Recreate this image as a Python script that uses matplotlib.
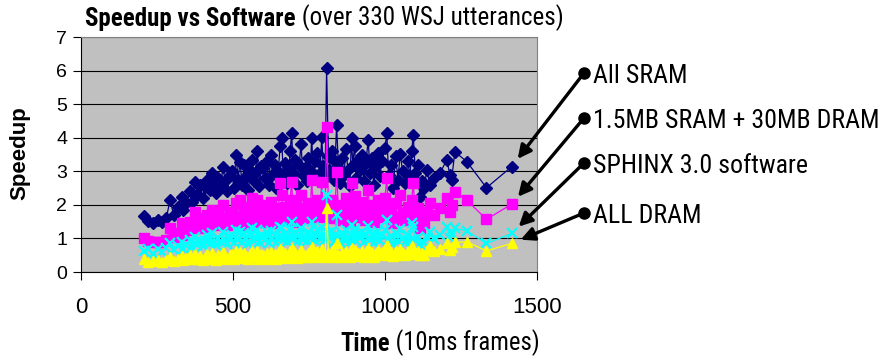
import matplotlib
matplotlib.use("Agg")
import matplotlib.pyplot as plt
from matplotlib import font_manager

# utterance lengths (10ms frames), sorted
frames = [207, 222, 238, 253, 268, 281, 293, 305, 318, 331,
          336, 347, 358, 366, 375, 383, 392, 400, 408, 415,
          423, 430, 437, 445, 452, 460, 467, 474, 481, 489,
          496, 503, 510, 517, 523, 530, 537, 544, 551, 556,
          561, 568, 574, 580, 587, 593, 600, 606, 611, 618,
          624, 630, 637, 643, 649, 655, 660, 666, 672, 679,
          685, 688, 693, 699, 705, 711, 718, 724, 730, 736,
          742, 748, 754, 759, 765, 771, 778, 786, 792, 797,
          803, 808, 814, 820, 826, 831, 836, 841, 847, 853,
          859, 865, 872, 878, 884, 890, 894, 900, 906, 912,
          918, 924, 931, 937, 945, 951, 957, 963, 970, 976,
          983, 990, 1000, 1006, 1012, 1019, 1027, 1035, 1043, 1050,
          1058, 1066, 1075, 1082, 1088, 1093, 1100, 1108, 1115, 1123,
          1130, 1137, 1148, 1160, 1181, 1203, 1214, 1219, 1230, 1269,
          1334, 1417]

all_sram = [1.67, 1.52, 1.45, 1.55, 1.50, 1.62, 2.14, 1.70, 1.95, 2.24,
            1.85, 2.05, 2.40, 2.10, 2.69, 2.30, 2.60, 2.20, 2.54, 2.75,
            2.45, 2.95, 2.60, 2.35, 2.80, 2.55, 3.14, 2.70, 2.40, 2.90,
            3.00, 2.50, 3.50, 2.75, 3.29, 2.60, 3.20, 2.85, 2.45, 3.05,
            3.34, 2.70, 2.95, 3.60, 2.55, 3.15, 3.09, 2.80, 3.30, 2.60,
            3.50, 2.90, 3.20, 2.50, 3.00, 3.75, 3.98, 2.85, 3.25, 2.65,
            3.10, 3.60, 4.13, 2.95, 3.35, 2.60, 3.20, 3.80, 2.90, 3.10,
            2.70, 3.40, 3.05, 3.98, 2.85, 3.30, 3.55, 2.95, 4.03, 3.15,
            2.80, 6.07, 3.45, 3.00, 3.60, 2.75, 3.30, 4.38, 3.10, 2.65,
            3.40, 2.90, 3.65, 3.05, 2.55, 3.98, 3.20, 3.75, 2.80, 3.35,
            3.05, 3.50, 2.70, 3.25, 3.93, 2.95, 3.40, 2.60, 3.15, 3.55,
            2.85, 3.30, 3.70, 4.13, 2.90, 3.20, 2.50, 3.45, 2.75, 3.53,
            3.00, 2.65, 3.30, 2.85, 3.60, 4.08, 2.95, 3.20, 2.24, 2.70,
            2.50, 3.04, 2.60, 2.80, 2.94, 3.34, 2.90, 2.74, 3.58, 3.29,
            2.51, 3.14]

sram_dram = [1.02, 0.92, 0.88, 0.90, 0.88, 0.95, 1.31, 1.05, 1.15, 1.45,
             1.10, 1.25, 1.50, 1.30, 1.80, 1.40, 1.60, 1.30, 1.55, 1.70,
             1.45, 1.85, 1.55, 1.40, 1.70, 1.50, 2.00, 1.60, 1.40, 1.75,
             1.80, 1.45, 2.05, 1.60, 2.14, 1.50, 1.95, 1.70, 1.40, 1.85,
             2.20, 1.60, 1.75, 2.15, 1.50, 1.90, 1.85, 1.65, 2.00, 1.50,
             2.10, 1.70, 1.90, 1.45, 1.80, 2.64, 2.30, 1.65, 1.95, 1.55,
             1.85, 2.15, 2.69, 1.70, 2.00, 1.50, 1.90, 2.30, 1.70, 1.85,
             1.60, 2.05, 1.80, 2.74, 1.65, 1.95, 2.15, 1.75, 2.69, 1.85,
             1.65, 4.33, 2.05, 1.75, 2.15, 1.60, 1.95, 2.99, 1.80, 1.55,
             2.00, 1.70, 2.20, 1.80, 1.50, 2.64, 1.90, 2.25, 1.65, 2.00,
             1.80, 2.10, 1.55, 1.95, 2.45, 1.70, 2.00, 1.50, 1.85, 2.15,
             1.65, 1.95, 2.20, 2.79, 1.70, 1.90, 1.45, 2.05, 1.60, 2.30,
             1.75, 1.55, 1.95, 1.65, 2.15, 2.64, 1.70, 1.90, 1.30, 1.60,
             1.45, 1.80, 2.05, 1.70, 1.90, 2.20, 1.80, 2.00, 2.39, 2.14,
             1.57, 2.02]

sphinx_sw = [0.62, 0.70, 0.55, 0.68, 0.60, 0.72, 0.85, 0.65, 0.78, 0.90,
             0.70, 0.80, 0.95, 0.75, 1.05, 0.80, 0.95, 0.78, 0.92, 1.10,
             0.85, 1.15, 0.90, 0.80, 1.00, 0.88, 1.20, 0.92, 0.82, 1.05,
             1.10, 0.85, 1.25, 0.95, 1.20, 0.88, 1.15, 1.00, 0.82, 1.10,
             1.30, 0.92, 1.05, 1.25, 0.88, 1.10, 1.08, 0.95, 1.18, 0.85,
             1.22, 0.98, 1.10, 0.85, 1.05, 1.35, 1.30, 0.95, 1.12, 0.90,
             1.08, 1.25, 1.50, 0.98, 1.15, 0.88, 1.10, 1.30, 0.95, 1.08,
             0.92, 1.18, 1.02, 1.50, 0.95, 1.12, 1.25, 1.00, 1.35, 1.05,
             0.95, 2.29, 1.15, 1.00, 1.22, 0.90, 1.10, 1.70, 1.02, 0.88,
             1.15, 0.95, 1.25, 1.02, 0.85, 1.40, 1.08, 1.28, 0.92, 1.12,
             1.00, 1.20, 0.88, 1.10, 1.38, 0.95, 1.12, 0.85, 1.05, 1.22,
             0.92, 1.10, 1.25, 1.55, 0.95, 1.08, 0.82, 1.15, 0.90, 1.28,
             1.00, 0.88, 1.10, 0.92, 1.45, 1.35, 0.95, 1.05, 0.80, 0.92,
             0.85, 1.05, 1.20, 0.98, 1.10, 1.35, 1.02, 1.12, 1.30, 1.23,
             0.85, 1.15]

all_dram = [0.38, 0.30, 0.32, 0.35, 0.30, 0.36, 0.45, 0.33, 0.40, 0.48,
            0.35, 0.42, 0.50, 0.38, 0.55, 0.40, 0.48, 0.36, 0.45, 0.55,
            0.40, 0.58, 0.44, 0.36, 0.50, 0.42, 0.60, 0.45, 0.38, 0.52,
            0.55, 0.40, 0.62, 0.46, 0.60, 0.42, 0.56, 0.48, 0.38, 0.54,
            0.64, 0.44, 0.50, 0.62, 0.40, 0.55, 0.52, 0.45, 0.58, 0.40,
            0.60, 0.46, 0.54, 0.40, 0.50, 0.68, 0.64, 0.45, 0.56, 0.42,
            0.52, 0.62, 0.72, 0.46, 0.56, 0.42, 0.54, 0.65, 0.45, 0.52,
            0.44, 0.58, 0.50, 0.74, 0.46, 0.56, 0.62, 0.48, 0.68, 0.52,
            0.46, 1.90, 0.58, 0.50, 0.62, 0.45, 0.55, 0.85, 0.52, 0.44,
            0.58, 0.48, 0.64, 0.52, 0.44, 0.72, 0.55, 0.66, 0.48, 0.58,
            0.52, 0.62, 0.46, 0.58, 0.72, 0.50, 0.60, 0.46, 0.56, 0.65,
            0.50, 0.60, 0.68, 0.80, 0.52, 0.60, 0.48, 0.64, 0.52, 0.70,
            0.58, 0.50, 0.64, 0.55, 0.78, 0.72, 0.56, 0.62, 0.50, 0.58,
            0.52, 0.66, 0.78, 0.62, 0.70, 0.85, 0.66, 0.74, 0.88, 0.90,
            0.63, 0.85]

series_labels = ["All SRAM", "1.5MB SRAM + 30MB DRAM",
                 "SPHINX 3.0 software", "ALL DRAM"]

# pick a narrow face if one exists, else shrink Liberation Sans to the same width
names = {f.name for f in font_manager.fontManager.ttflist}
narrow, shrink = "Liberation Sans", 0.83
for cand in ["Liberation Sans Narrow", "Arial Narrow", "Roboto Condensed",
             "Noto Sans Condensed"]:
    if cand in names:
        narrow, shrink = cand, 1.0
        break
plt.rcParams["font.family"] = ["Liberation Sans", "DejaVu Sans"]

fig = plt.figure(figsize=(8.83, 3.6), dpi=100)
ax = fig.add_axes([0.0917, 0.2444, 0.5164, 0.6528])
ax.set_facecolor("#C0C0C0")

ax.plot(frames, all_sram, color="#000080", marker="D", ms=6.5, lw=0.9)
ax.plot(frames, sram_dram, color="#FF00FF", marker="s", ms=6.5, lw=0.9)
ax.plot(frames, sphinx_sw, color="#00FFFF", marker="x", ms=7, mew=1.6, lw=0.9)
ax.plot(frames, all_dram, color="#FFFF00", marker="^", ms=7.5, lw=0.9)

ax.set_xlim(0, 1500)
ax.set_ylim(0, 7)
ax.set_xticks([0, 500, 1000, 1500])
ax.set_yticks(range(8))
ax.yaxis.grid(True, color="black", lw=0.8)
ax.set_axisbelow(True)
ax.tick_params(axis="x", labelsize=16, direction="out", length=6, pad=12)
ax.tick_params(axis="y", labelsize=14, direction="out", length=6, pad=4)
for side in ("top", "right"):
    ax.spines[side].set_color("#808080")
for side in ("left", "bottom"):
    ax.spines[side].set_color("black")

# y label
fig.text(0.023, 0.575, "Speedup", rotation=90, fontsize=16, fontweight="bold",
         ha="center", va="center")

# title: bold part followed by normal part
tsize = 18 * shrink
t1 = fig.text(0.0963, 0.928, "Speedup vs Software", fontsize=tsize,
              fontweight="bold", family=narrow, ha="left", va="baseline")
ax.annotate(" (over 330 WSJ utterances)", xy=(1, 0), xycoords=t1,
            fontsize=tsize, family=narrow, va="bottom", ha="left")

# x label
xsize = 17.7 * shrink
x1 = fig.text(0.385, 0.024, "Time", fontsize=xsize, fontweight="bold",
              family=narrow, ha="left", va="baseline")
ax.annotate(" (10ms frames)", xy=(1, 0), xycoords=x1, fontsize=xsize,
            family=narrow, va="bottom", ha="left")

# callouts with dots and arrows
dot_y = [73, 118, 163, 213]
series = [all_sram, sram_dram, sphinx_sw, all_dram]
for lab, dy, ys in zip(series_labels, dot_y, series):
    fx, fy = 584 / 883, 1 - dy / 360
    ax.annotate("", xy=(frames[-1], ys[-1]), xycoords="data",
                xytext=(fx, fy), textcoords="figure fraction",
                arrowprops=dict(arrowstyle="-|>,head_length=0.8,head_width=0.4",
                                color="black", lw=2.4, shrinkA=0, shrinkB=7),
                annotation_clip=False)
    fig.lines.append(plt.Line2D([fx], [fy], transform=fig.transFigure,
                                marker="o", ms=8, color="black"))
    fig.text(593 / 883, 1 - (dy + 10) / 360, lab, fontsize=18.6 * shrink,
             family=narrow, ha="left", va="baseline")

fig.savefig("out.png", dpi=100)
